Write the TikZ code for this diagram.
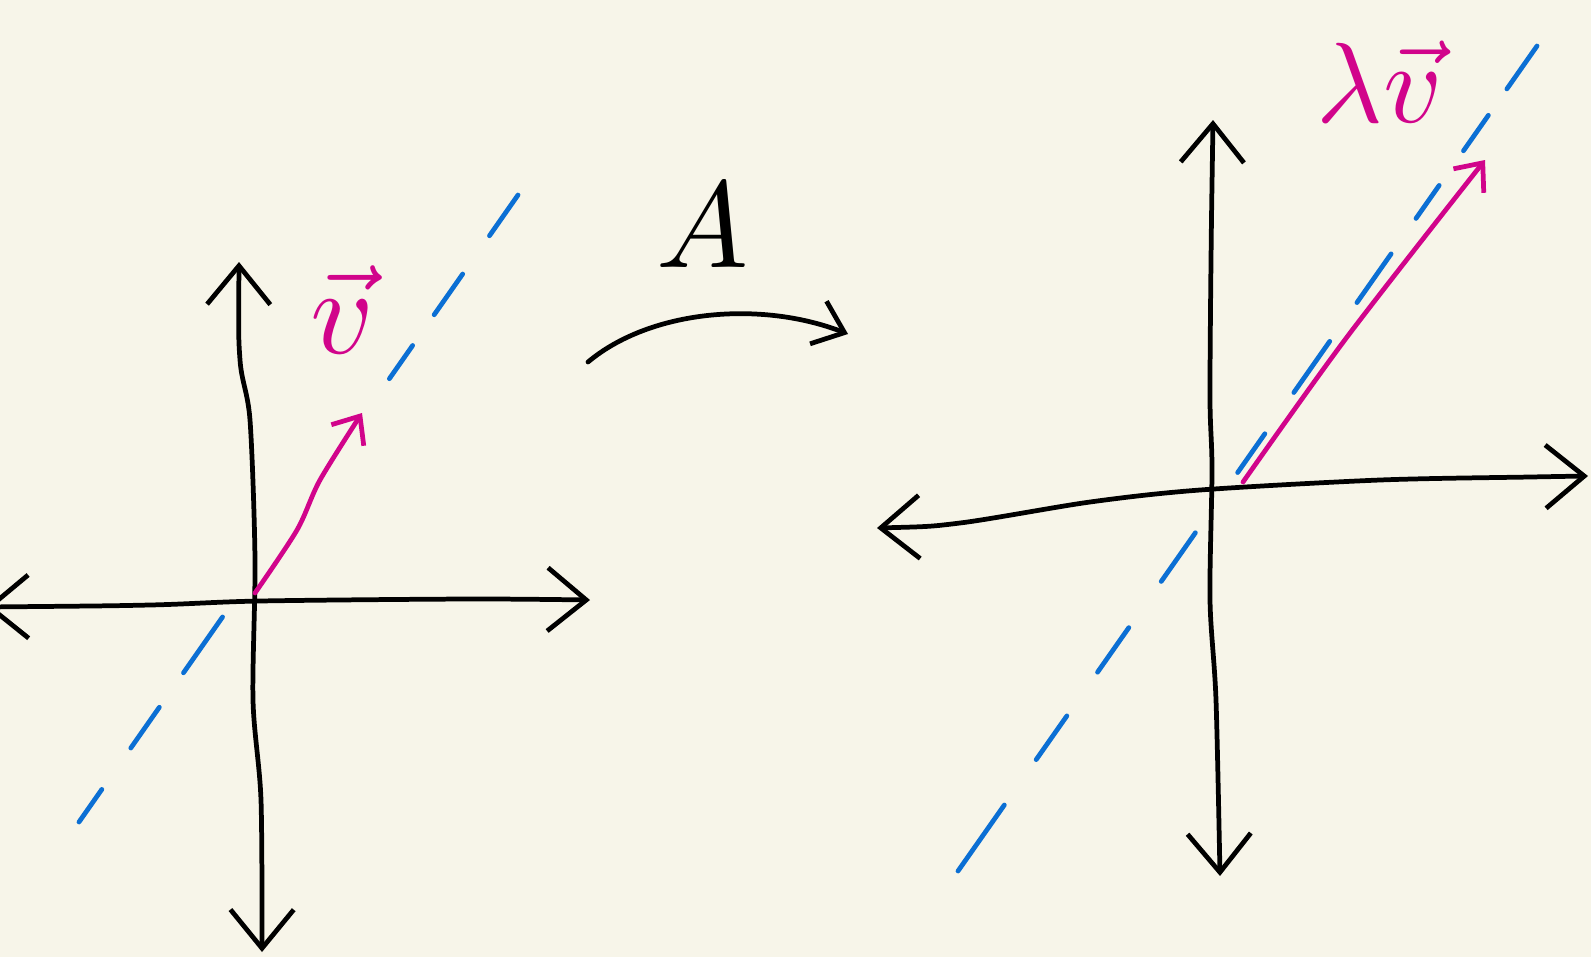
\documentclass[tikz,border=0pt]{standalone}
\usepackage{amsmath}
\usetikzlibrary{arrows.meta,calc}
\definecolor{paper}{HTML}{F7F5E9}
\definecolor{inkpink}{HTML}{D1048B}
\definecolor{inkblue}{HTML}{0B6FD4}

\begin{document}
\begin{tikzpicture}[x=0.02cm,y=-0.02cm,line cap=round,line join=round,
  axis/.style={line width=2.7pt,black},
  bigtip/.style={{Straight Barb[length=22pt,width=36pt]}-{Straight Barb[length=22pt,width=36pt]}},
  guide/.style={line width=2.7pt,inkblue},
  vecline/.style={line width=2.7pt,inkpink,-{Straight Barb[length=13pt,width=22pt]}},
  label/.style={scale=7}]
  % paper
  \fill[paper] (0,0) rectangle (1591,957);
  \useasboundingbox (0,0) rectangle (1591,957);
  \clip (0,0) rectangle (1591,957);

  % left picture: the plane before A
  \coordinate (Lw) at (-14,607);
  \coordinate (Le) at (590,600);
  \coordinate (Ln) at (239,262);
  \coordinate (Ls) at (262,952);
  \coordinate (L0) at (255,593);
  \coordinate (Ld1) at (79,822);
  \coordinate (Ld2) at (518,195);
  \coordinate (Lv) at (362,413);
  % dashes of the line through v, broken where v sits on it
  \foreach \a/\b in {0/0.052,0.118/0.183,0.238/0.327,0.707/0.760,0.809/0.874,0.935/1}
    \draw[guide] ($(Ld1)!\a!(Ld2)$) -- ($(Ld1)!\b!(Ld2)$);
  \draw[axis,bigtip] plot[smooth] coordinates {(Lw) (150,605) (260,601) (470,599) (Le)};
  \draw[axis,bigtip] plot[smooth] coordinates {(Ln) (240,360) (250,420) (255,560) (253,700) (261,800) (Ls)};
  \draw[vecline] plot[smooth] coordinates {(L0) (297,530) (320,480) (Lv)};
  \node[label,text=inkpink] (vlab) at (342,310) {$\vec v$};

  % the map A
  \coordinate (Aa) at (588,362);
  \coordinate (Ab) at (848,334);
  \draw[axis,-{Straight Barb[length=16pt,width=26pt]}] (Aa) .. controls (650,310) and (760,300) .. (Ab);
  \node[label] (Alab) at (703,225) {$A$};

  % right picture: the plane after A
  \coordinate (Rw) at (877,528);
  \coordinate (Re) at (1588,476);
  \coordinate (Rn) at (1213,120);
  \coordinate (Rs) at (1220,876);
  \coordinate (R0) at (1243,482);
  \coordinate (Rd1) at (958,871);
  \coordinate (Rd2) at (1537,46);
  \coordinate (Rv) at (1485,160);
  \foreach \a/\b in {0/0.080,0.135/0.188,0.241/0.295,0.351/0.410,0.483/0.530,0.580/0.642,0.689/0.748,0.791/0.831,0.873/0.916,0.948/1}
    \draw[guide] ($(Rd1)!\a!(Rd2)$) -- ($(Rd1)!\b!(Rd2)$);
  \draw[axis,bigtip] plot[smooth] coordinates {(Rw) (960,523) (1090,502) (1200,490) (1380,480) (1530,477) (Re)};
  \draw[axis,bigtip] plot[smooth] coordinates {(Rn) (1211,260) (1210,400) (1212,470) (1210,600) (1216,700) (Rs)};
  \draw[vecline] plot[smooth] coordinates {(R0) (1347,337) (Rv)};
  \node[label,scale=6.5/7,text=inkpink] (lamlab) at (1380,82) {$\lambda\vec v$};
\end{tikzpicture}
\end{document}
